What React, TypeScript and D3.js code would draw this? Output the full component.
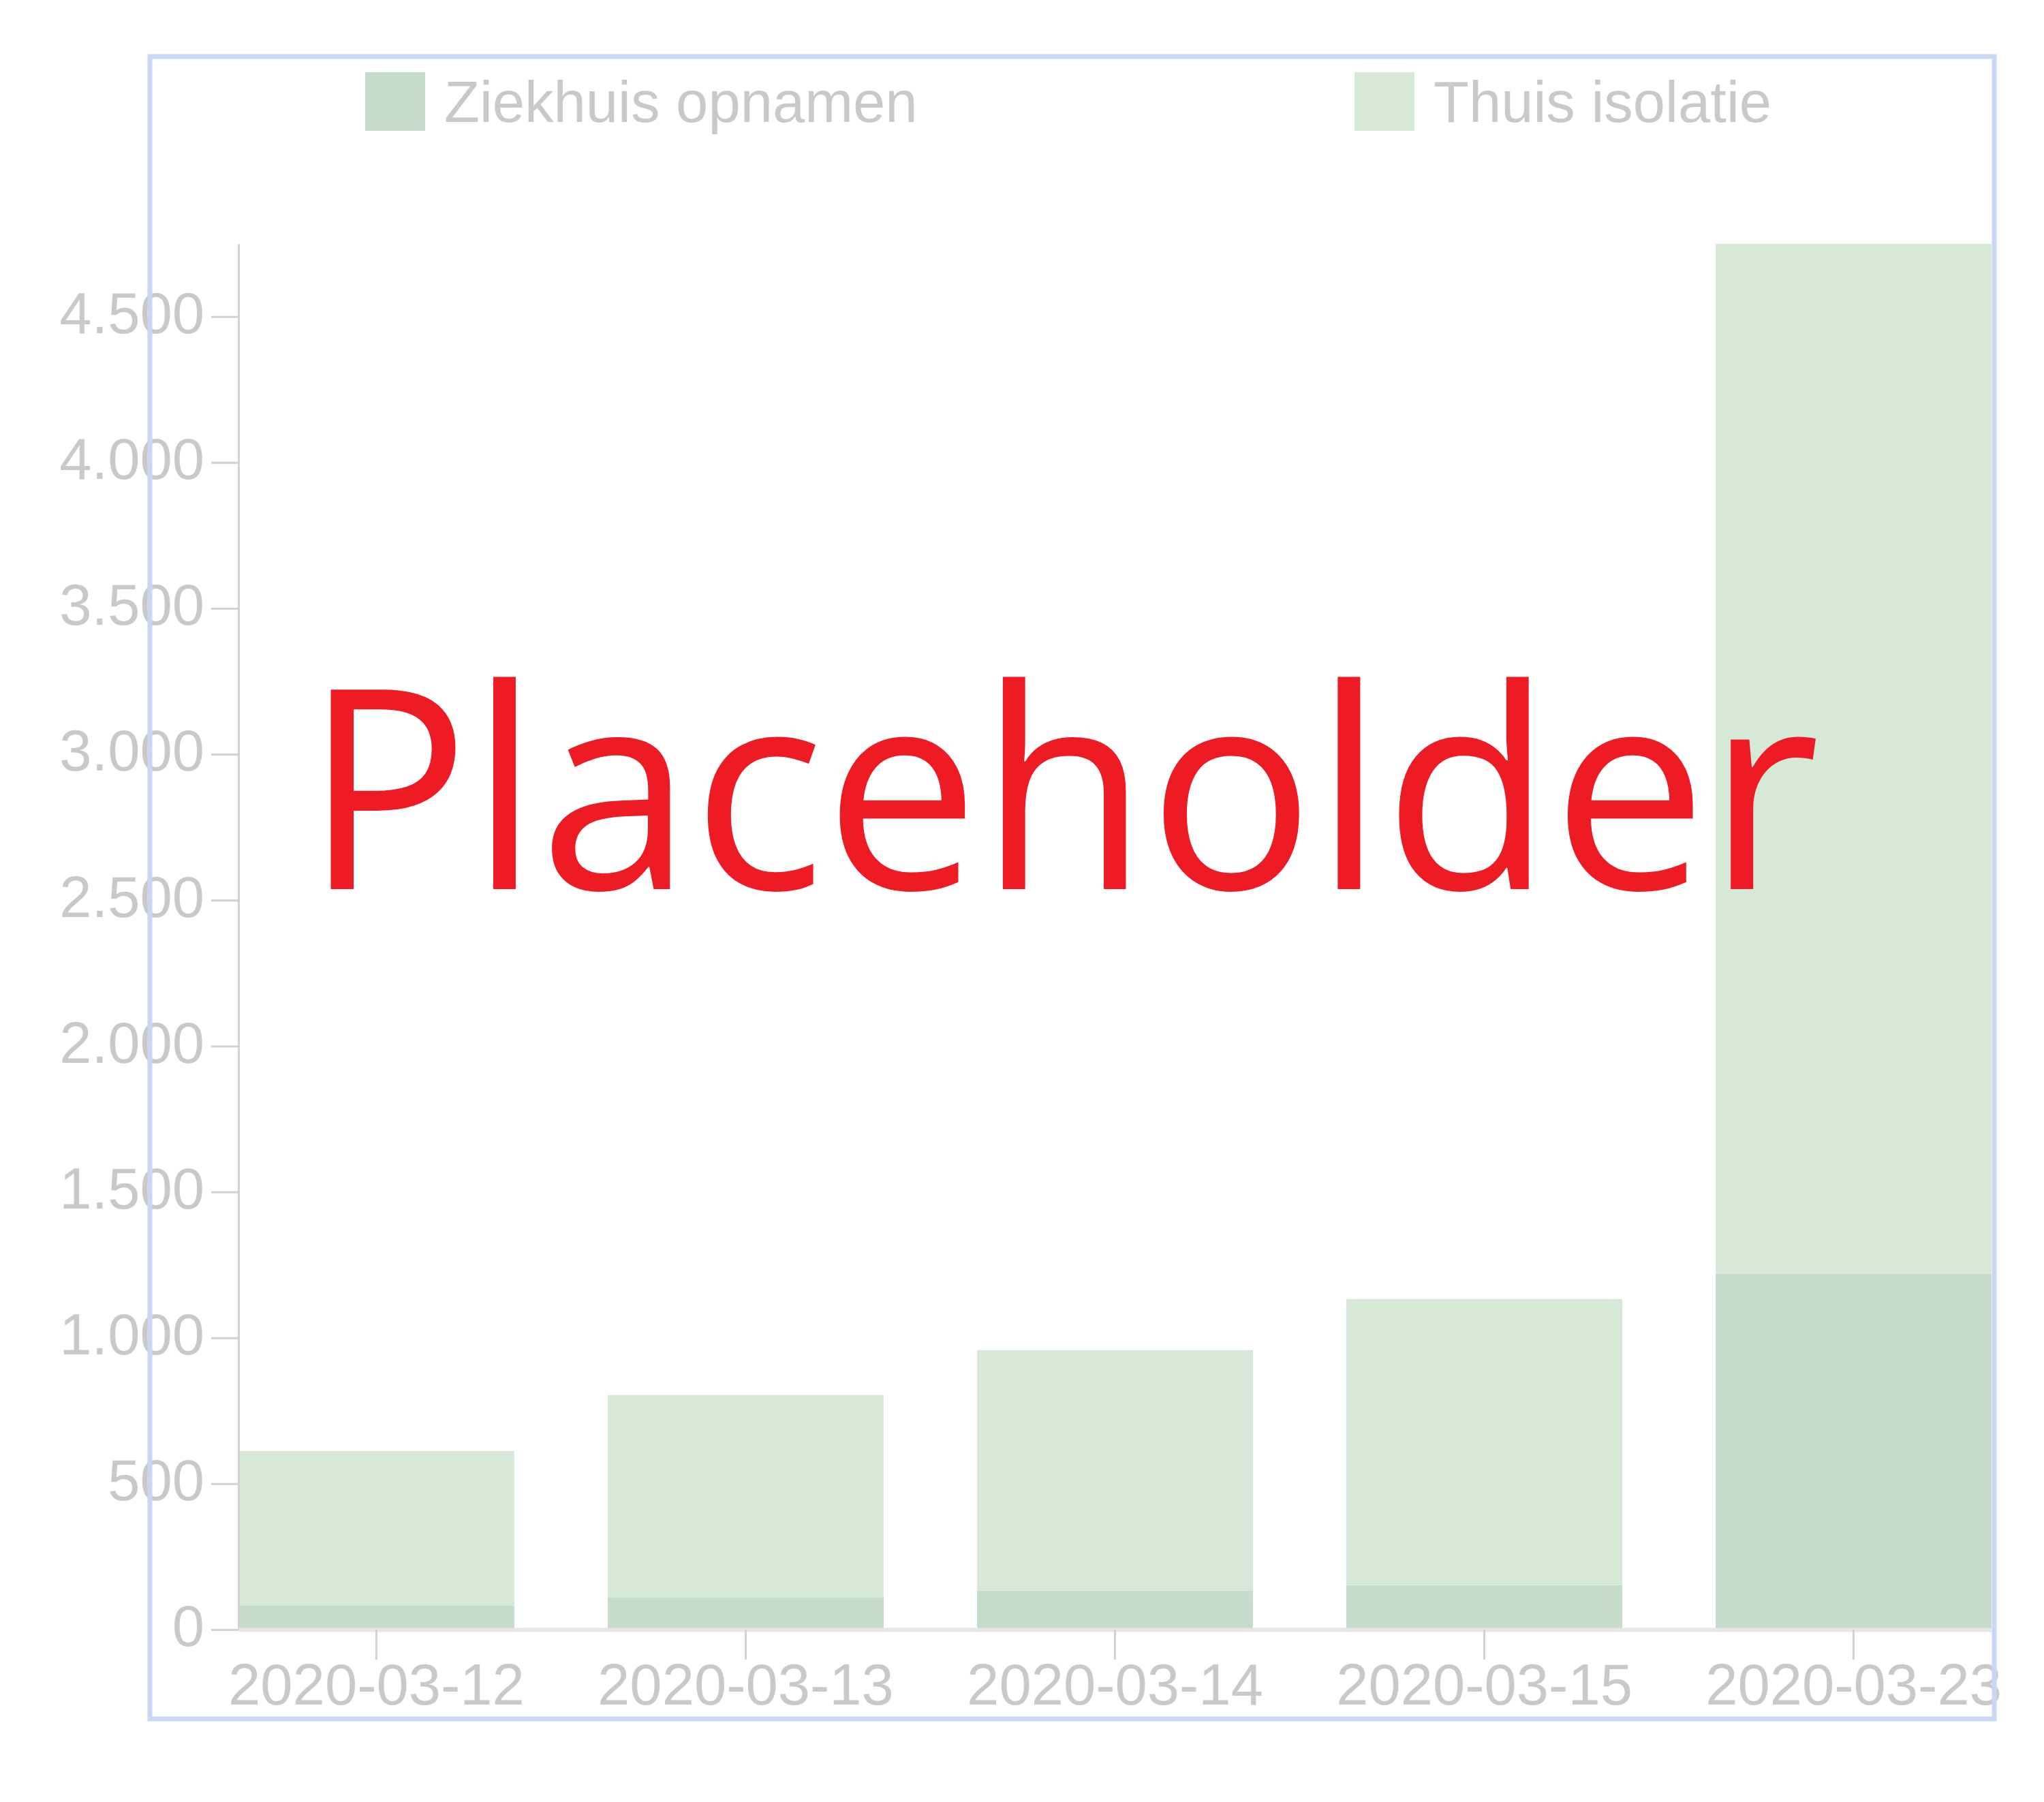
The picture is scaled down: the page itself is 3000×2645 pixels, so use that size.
import React, {useEffect, useRef} from "react";
import * as d3 from 'd3';

const WIDTH = 3000;
const HEIGHT = 2645;

// chart area (plot box inside the frame)
const PLOT_LEFT = 350;
const PLOT_RIGHT = 2923;
const PLOT_TOP = 358;
const PLOT_BOTTOM = 2392;

const FONT = "'Liberation Sans', Arial, sans-serif";
const FONT_SIZE = 85;
const TEXT_COLOR = "#cbc8c8";

// data
const dates = ["2020-03-12", "2020-03-13", "2020-03-14", "2020-03-15", "2020-03-23"];
const ziekhuis = [82, 110, 134, 152, 1220];
const thuis = [530, 694, 824, 981, 3529];
const seriesKeys = ["Ziekhuis opnamen", "Thuis isolatie"];
const seriesColors = ["#c5dccb", "#d5e9d6"];
const yTicks = [0, 500, 1000, 1500, 2000, 2500, 3000, 3500, 4000, 4500];

const nl = d3.formatLocale({decimal: ",", thousands: ".", grouping: [3], currency: ["€", ""]});
const fmt = nl.format(",d");

export const StackedChart: React.FC = () => {
    const d3Container = useRef(null);

    useEffect(() => {
        const rows = dates.map((d, i) => ({
            date: d,
            [seriesKeys[0]]: ziekhuis[i],
            [seriesKeys[1]]: thuis[i],
        }));
        const stacked = d3.stack<any>().keys(seriesKeys)(rows);
        const maxY = d3.max(stacked[stacked.length - 1], d => d[1]) as number;

        const xScale = d3.scaleBand()
            .domain(dates)
            .range([PLOT_LEFT, PLOT_RIGHT])
            .paddingInner(0.253)
            .paddingOuter(0);
        const yScale = d3.scaleLinear()
            .domain([0, maxY])
            .range([PLOT_BOTTOM, PLOT_TOP]);
        const color = d3.scaleOrdinal<string, string>().domain(seriesKeys).range(seriesColors);

        const rootG = d3.select(d3Container.current);
        rootG.selectAll('g').remove();

        // legend
        const legendX = [536, 1988];
        const legendG = rootG.append('g');
        seriesKeys.forEach((k, i) => {
            legendG.append('rect')
                .attr('x', legendX[i])
                .attr('y', 106)
                .attr('width', 88)
                .attr('height', 86)
                .style('fill', color(k));
            legendG.append('text')
                .attr('x', legendX[i] + 116)
                .attr('y', 179)
                .style('font-family', FONT)
                .style('font-size', FONT_SIZE + 'px')
                .style('fill', TEXT_COLOR)
                .text(k);
        });

        // bars
        const barsG = rootG.append('g');
        barsG.selectAll('g')
            .data(stacked)
            .enter()
            .append('g')
            .style('fill', d => color(d.key))
            .selectAll('rect')
            .data(d => d)
            .enter()
            .append('rect')
            .attr('x', d => xScale(d.data.date) as number)
            .attr('width', xScale.bandwidth())
            .attr('y', d => yScale(d[1]))
            .attr('height', d => yScale(d[0]) - yScale(d[1]));

        // y axis
        const yAxisG = rootG.append('g')
            .attr("transform", "translate(" + PLOT_LEFT + ",0)")
            .call(d3.axisLeft(yScale).tickValues(yTicks).tickFormat(v => fmt(v as number))
                .tickSize(40).tickSizeOuter(0).tickPadding(10));
        yAxisG.select('.domain').style('stroke', '#d2d2d2').style('stroke-width', 3);
        yAxisG.selectAll('.tick line').style('stroke', '#d2d2d2').style('stroke-width', 3);
        yAxisG.selectAll('.tick text')
            .style('font-family', FONT)
            .style('font-size', FONT_SIZE + 'px')
            .style('fill', TEXT_COLOR)
            .attr('dy', '0.28em');

        // x axis
        const xAxisG = rootG.append('g')
            .attr("transform", "translate(0," + PLOT_BOTTOM + ")")
            .call(d3.axisBottom(xScale).tickSize(44).tickSizeOuter(0).tickPadding(6));
        xAxisG.select('.domain').style('stroke', '#e6e6e6').style('stroke-width', 6);
        xAxisG.selectAll('.tick line').style('stroke', '#d2d2d2').style('stroke-width', 3);
        xAxisG.selectAll('.tick text')
            .style('font-family', FONT)
            .style('font-size', FONT_SIZE + 'px')
            .style('fill', TEXT_COLOR);

        // frame around the chart
        rootG.append('g')
            .append('rect')
            .attr('x', 220)
            .attr('y', 83)
            .attr('width', 2707)
            .attr('height', 2440)
            .style('fill', 'none')
            .style('stroke', '#cad6f6')
            .style('stroke-width', 7);

        // overlay label
        rootG.append('g')
            .append('text')
            .attr('x', 446)
            .attr('y', 1305)
            .attr('textLength', 2225)
            .attr('lengthAdjust', 'spacingAndGlyphs')
            .style('font-family', "'Open Sans', 'Noto Sans', sans-serif")
            .style('font-size', '410px')
            .style('fill', '#ed1c24')
            .text('Placeholder');
    }, []);

    return (
        <svg ref={d3Container} width={WIDTH} height={HEIGHT}
             style={{position: 'absolute', left: 0, top: 0, background: '#fff'}}/>
    );
};

export default function App() {
    return <StackedChart/>;
}
